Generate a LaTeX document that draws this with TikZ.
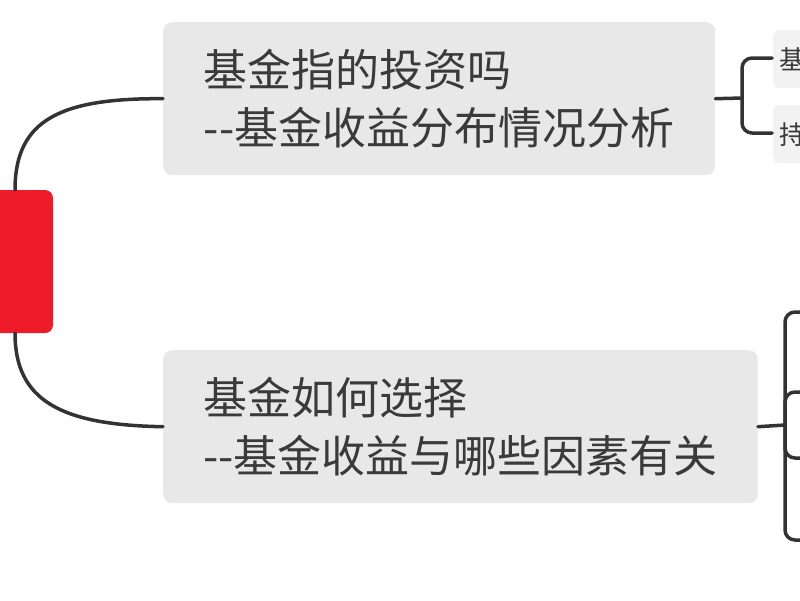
\documentclass[tikz,border=0pt]{standalone}
\usepackage{fontspec}
\newfontfamily\cjk{Noto Sans CJK SC}
\definecolor{boxgray}{HTML}{E8E8E8}
\definecolor{leafgray}{HTML}{F2F2F2}
\definecolor{txtgray}{HTML}{3A3A3A}
\definecolor{rootred}{HTML}{EE1C2B}
\tikzset{
    topic/.style={fill=boxgray,rounded corners=9pt,align=left,anchor=north west,
        text=txtgray,font=\cjk\fontsize{44}{58}\selectfont,inner xsep=40pt,
        minimum height=153pt},
    leaf/.style={fill=leafgray,rounded corners=6pt,anchor=north west,text=txtgray,
        font=\cjk\fontsize{26}{26}\selectfont,minimum height=58pt,text width=60pt,inner sep=6pt},
    branch/.style={line width=3.5pt,draw=black!80,line cap=round},
}
\begin{document}
\begin{tikzpicture}[x=1pt,y=-1pt]
\useasboundingbox (0,0) rectangle (800,600);
\fill[rootred,rounded corners=8pt] (-30,190) rectangle (53,333);
\node[topic,minimum width=552pt] (t1) at (163,22) {基金指的投资吗\\--基金收益分布情况分析};
\node[topic,minimum width=594pt] (t2) at (163,350) {基金如何选择\\--基金收益与哪些因素有关};
\node[leaf] (l1) at (773,30) {基};
\node[leaf] (l2) at (773,105) {持};
\coordinate (r1) at (15,190);
\coordinate (r2) at (15,333);
\draw[branch] (r1) .. controls (15,120) and (60,98) .. (t1.west);
\draw[branch] (r2) .. controls (15,400) and (60,425) .. (t2.west);
% top bracket
\draw[branch] (t1.east) -- (742,98);
\draw[branch,rounded corners=10pt] (772,58) -- (742,58) -- (742,133) -- (772,133);
% bottom bracket
\draw[branch] (t2.east) -- (785,425);
\draw[branch,rounded corners=10pt] (805,312) -- (785,312) -- (785,540) -- (805,540);
\draw[branch,rounded corners=10pt] (805,392) -- (785,392) -- (785,458) -- (805,458);
\end{tikzpicture}
\end{document}
